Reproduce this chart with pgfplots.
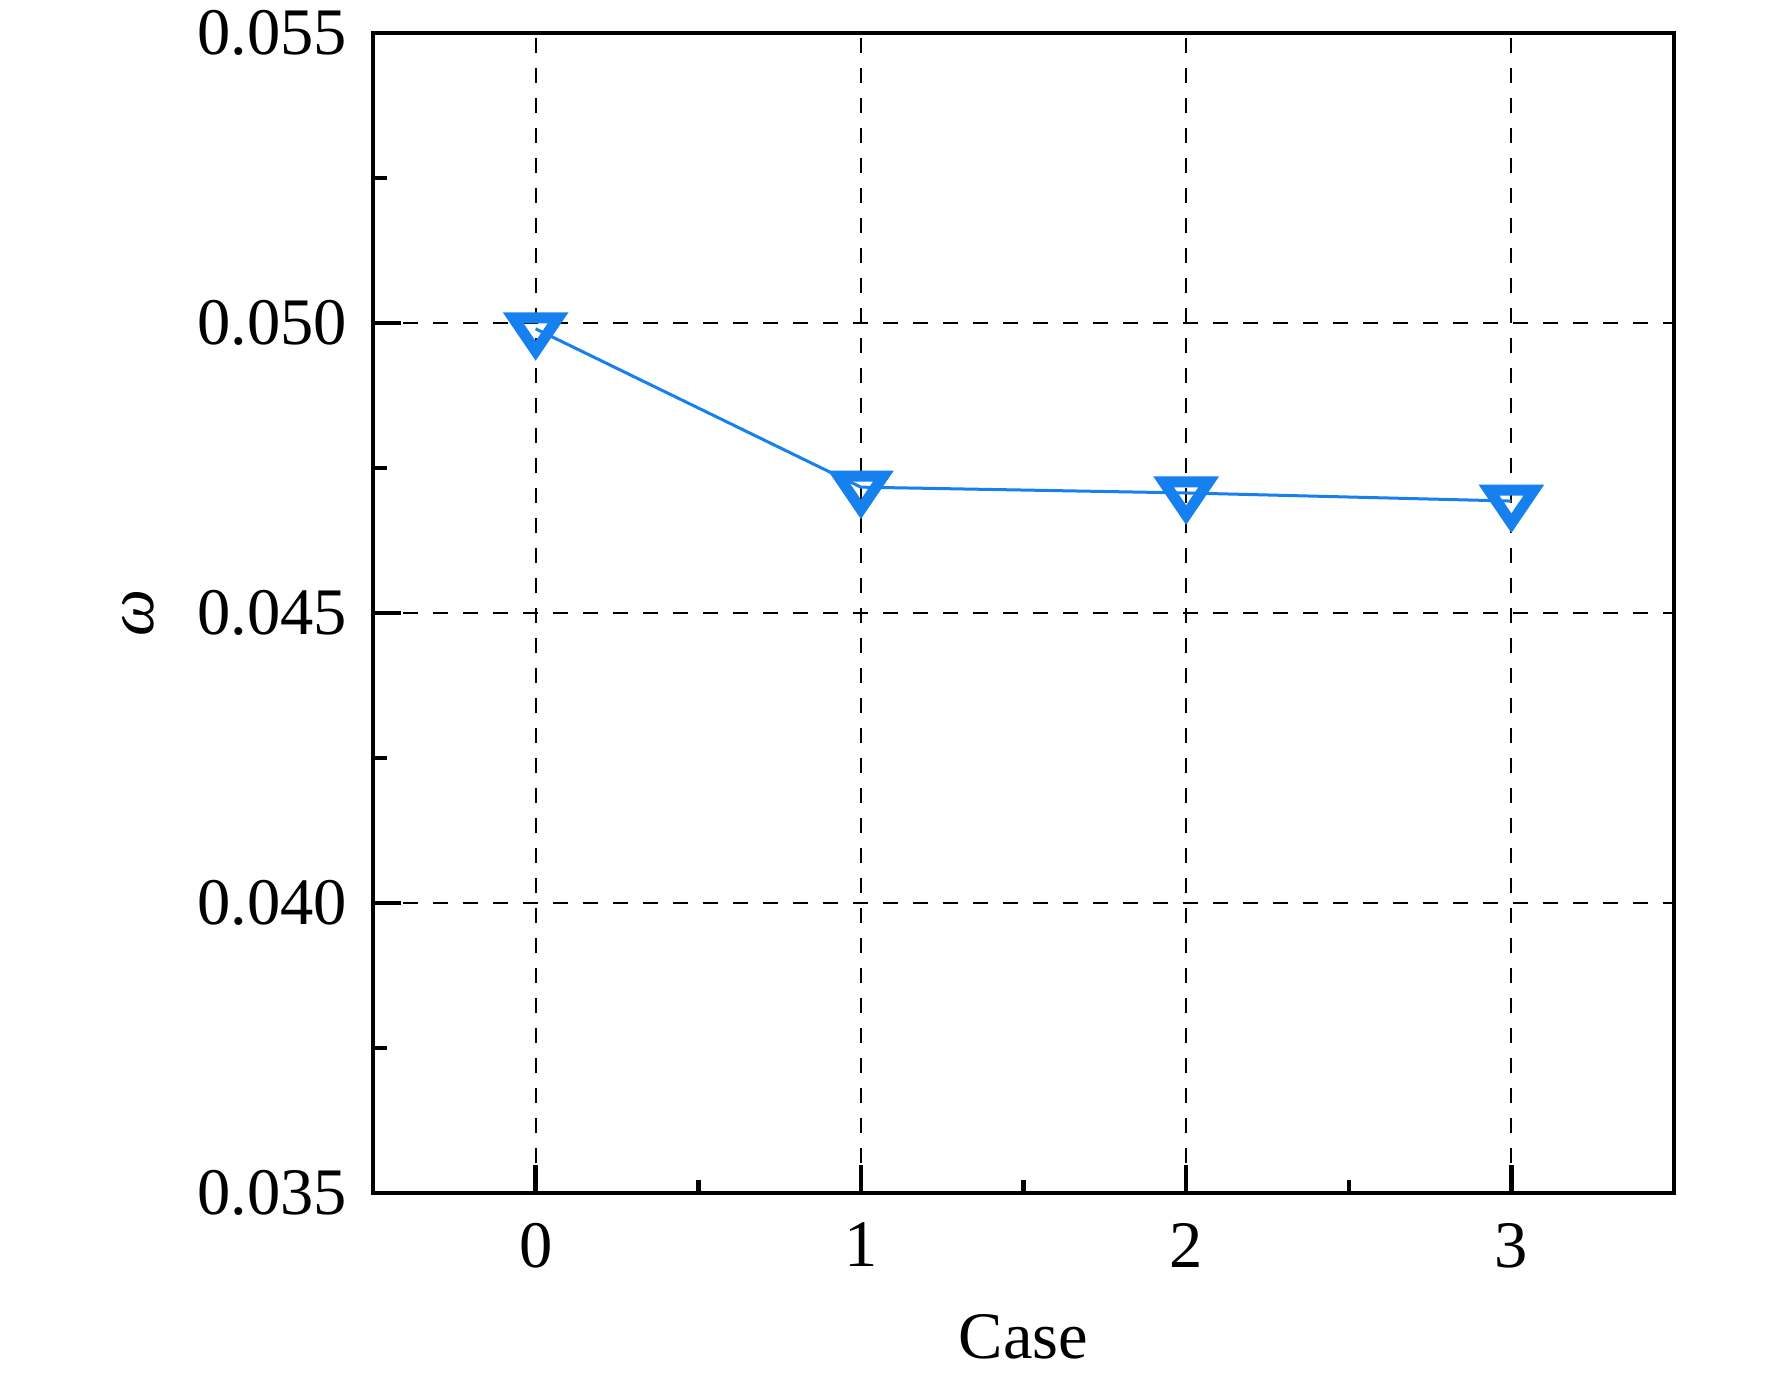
\documentclass[border=0pt]{standalone}
\usepackage{pgfplots}
\pgfplotsset{compat=1.18}
\usepackage{fontspec}
\setmainfont{Liberation Serif}
\definecolor{lineblue}{RGB}{22,128,238}
\begin{document}
\begin{tikzpicture}
\begin{axis}[
  scale only axis,
  width=260.2pt, height=232pt,
  xmin=-0.5, xmax=3.5,
  ymin=0.035, ymax=0.055,
  xtick={0,1,2,3},
  ytick={0.035,0.040,0.045,0.050,0.055},
  minor x tick num=1,
  minor y tick num=1,
  xtick pos=left, ytick pos=left,
  tick align=inside,
  major tick length=5.6pt,
  minor tick length=2.7pt,
  every tick/.style={black, line width=0.9pt},
  axis line style={line width=0.9pt},
  grid=major,
  major grid style={black, dash pattern=on 3pt off 3pt, line width=0.4pt},
  font=\fontsize{13.3}{15}\selectfont,
  /pgf/number format/assume math mode=true,
  scaled y ticks=false,
  yticklabel style={/pgf/number format/fixed, /pgf/number format/fixed zerofill, /pgf/number format/precision=3},
  yticklabel style={inner sep=0pt, anchor=east, xshift=-5pt},
  xticklabel style={inner sep=0pt, anchor=north, yshift=-5.8pt},
  xlabel={Case},
  ylabel={\textit{ω}},
  xlabel style={at={(axis description cs:0.5,0)}, anchor=base, yshift=-33pt, inner sep=0pt},
  ylabel style={at={(axis description cs:0,0.5)}, anchor=center, yshift=47pt, inner sep=0pt},
]
\coordinate (bl) at (rel axis cs:0,0);
\coordinate (tr) at (rel axis cs:1,1);
\addplot[color=lineblue, line width=0.6pt, mark=triangle, mark size=5.2pt,
  mark options={line width=2.2pt, yscale=-0.85, solid}]
  coordinates {(0,0.0499) (1,0.04717) (2,0.04707) (3,0.04693)};
\end{axis}
\pgfresetboundingbox
\path ([shift={(-74.6pt,-37.2pt)}]bl) rectangle ([shift={(19.6pt,6.6pt)}]tr);
\end{tikzpicture}
\end{document}
